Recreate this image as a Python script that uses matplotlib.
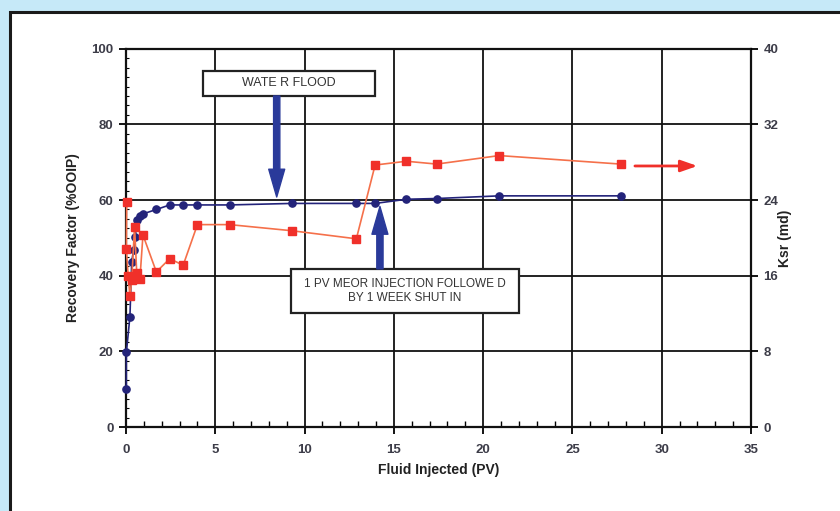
import matplotlib
matplotlib.use("Agg")
import matplotlib.pyplot as plt
from matplotlib.patches import Rectangle
from matplotlib.ticker import MultipleLocator

plt.rcParams["font.family"] = ["Liberation Sans", "DejaVu Sans"]

# recovery factor (%OOIP), left axis
rf_pv = [0.02, 0.02, 0.22, 0.32, 0.42, 0.52, 0.62, 0.78, 0.93, 1.7, 2.45,
         3.2, 4.0, 5.8, 9.3, 12.9, 13.95, 15.7, 17.4, 20.9, 27.7]
rf = [10.0, 19.7, 29.2, 43.6, 46.8, 50.3, 54.7, 55.8, 56.3, 57.5, 58.7,
      58.7, 58.7, 58.7, 59.1, 59.1, 59.1, 60.2, 60.4, 61.1, 61.1]

# Ksr (md), right axis
ksr_pv = [0.04, 0.02, 0.12, 0.22, 0.32, 0.48, 0.6, 0.78, 0.95, 1.7, 2.45,
          3.2, 4.0, 5.8, 9.3, 12.9, 13.95, 15.7, 17.4, 20.9, 27.7]
ksr = [23.8, 18.8, 16.0, 13.8, 15.5, 21.2, 16.3, 15.7, 20.3, 16.4, 17.8,
       17.1, 21.4, 21.4, 20.75, 19.9, 27.7, 28.1, 27.8, 28.7, 27.8]

blue = "#23237a"
red = "#f0302a"
redline = "#f5704a"
tc = "#3c3c48"

fig = plt.figure(figsize=(8.4, 5.11), dpi=100, facecolor="#c6e9f8")
fig.patches.append(Rectangle((9.5 / 840, -0.1), 1.0, (511 - 12.5) / 511 + 0.1,
                             transform=fig.transFigure, facecolor="white",
                             edgecolor="#1a1a1a", linewidth=2.2, zorder=-10))

ax = fig.add_axes([126 / 840, (511 - 427) / 511, 625 / 840, 378.3 / 511])
ax.set_facecolor("white")
ax.set_xlim(0, 35)
ax.set_ylim(0, 100)
ax.xaxis.set_major_locator(MultipleLocator(5))
ax.xaxis.set_minor_locator(MultipleLocator(1))
ax.yaxis.set_major_locator(MultipleLocator(20))
ax.yaxis.set_minor_locator(MultipleLocator(2.5))
ax.grid(True, which="major", color="#111111", linewidth=1.3, zorder=0)
ax.set_axisbelow(True)
for s in ax.spines.values():
    s.set_linewidth(1.6)
    s.set_color("#111111")
ax.tick_params(axis="x", which="major", direction="out", length=5, width=1.3,
               labelsize=9.5, labelcolor=tc, pad=7)
ax.tick_params(axis="x", which="minor", direction="in", length=4, width=1.0)
ax.tick_params(axis="y", which="major", direction="out", length=5, width=1.3,
               labelsize=9.5, labelcolor=tc, pad=4)
ax.tick_params(axis="y", which="minor", direction="in", length=2.5, width=0.8)
ax.set_xlabel("Fluid Injected (PV)", fontsize=10, fontweight="bold",
              color="#222222", labelpad=5)
ax.set_ylabel("Recovery Factor (%OOIP)", fontsize=10, fontweight="bold",
              color="#222222", labelpad=8)

ax2 = ax.twinx()
ax2.set_ylim(0, 40)
ax2.yaxis.set_major_locator(MultipleLocator(8))
ax2.tick_params(axis="y", direction="out", length=5, width=1.3,
                labelsize=9.5, labelcolor=tc, pad=4)
ax2.set_ylabel("Ksr (md)", fontsize=10, fontweight="bold", color="#222222",
               rotation=90, labelpad=0)
for s in ax2.spines.values():
    s.set_visible(False)
for lab in ax.get_xticklabels() + ax.get_yticklabels() + ax2.get_yticklabels():
    lab.set_fontweight("bold")

ax.plot(rf_pv, rf, "-", color=blue, linewidth=1.2, marker="o",
        markersize=5.2, markerfacecolor=blue, markeredgecolor=blue, zorder=5,
        clip_on=False)
ax2.plot(ksr_pv, ksr, "-", color=redline, linewidth=1.2, marker="s",
         markersize=6.3, markerfacecolor=red, markeredgecolor=red, zorder=6,
         clip_on=False)

# annotation boxes
ax.add_patch(Rectangle((4.31, 87.5), 9.63, 6.7, facecolor="white",
                       edgecolor="#222222", linewidth=1.6, zorder=8))
ax.text(9.13, 90.85, "WATE R FLOOD", ha="center", va="center", fontsize=9,
        color="#333333", zorder=9)
ax.add_patch(Rectangle((9.22, 30.2), 12.78, 11.6, facecolor="white",
                       edgecolor="#222222", linewidth=1.6, zorder=8))
ax.text(15.61, 36.0, "1 PV MEOR INJECTION FOLLOWE D\nBY 1 WEEK SHUT IN",
        ha="center", va="center", fontsize=8.5, color="#333333",
        linespacing=1.25, zorder=9)

arrow_blue = dict(arrowstyle="simple,head_width=1.15,head_length=2.0,tail_width=0.45",
                  mutation_scale=10, color="#2a3a9a", shrinkA=0, shrinkB=0)
ax.annotate("", xy=(8.44, 60.8), xytext=(8.44, 87.5), arrowprops=arrow_blue,
            zorder=10)
ax.annotate("", xy=(14.22, 58.3), xytext=(14.22, 41.8), arrowprops=arrow_blue,
            zorder=10)
ax.annotate("", xy=(32.0, 69.0), xytext=(28.5, 69.0),
            arrowprops=dict(arrowstyle="-|>,head_width=0.35,head_length=1.0",
                            mutation_scale=10, color=red, linewidth=2.0,
                            shrinkA=0, shrinkB=0), zorder=10)

fig.savefig("out.png", dpi=100, facecolor=fig.get_facecolor())
